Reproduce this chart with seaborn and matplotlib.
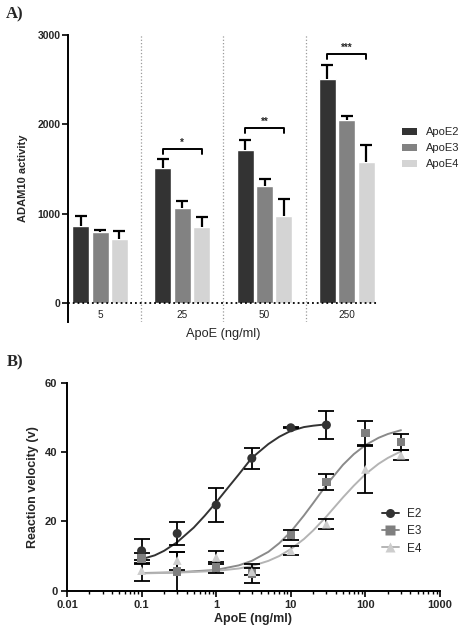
import matplotlib
matplotlib.use("Agg")
import matplotlib.pyplot as plt
from matplotlib.lines import Line2D
from matplotlib.patches import Patch
from matplotlib.ticker import FixedLocator, LogLocator, NullFormatter
import numpy as np
import pandas as pd
import seaborn as sns

# ---- Panel A: ADAM10 activity by ApoE dose ----
doses = ["5", "25", "50", "250"]
isoforms = ["ApoE2", "ApoE3", "ApoE4"]
adam10_e2 = [865, 1509, 1707, 2504]
adam10_e3 = [794, 1066, 1308, 2050]
adam10_e4 = [719, 853, 973, 1580]
sd_e2 = [104, 101, 115, 164]
sd_e3 = [18, 74, 75, 48]
sd_e4 = [82, 108, 190, 186]
sig_doses = ["25", "50", "250"]
sig_labels = ["*", "**", "***"]
sig_heights = [1725, 1957, 2784]

# ---- Panel B: reaction velocity vs ApoE concentration ----
conc_e2 = [0.1, 0.3, 1, 3, 10, 30]
vel_e2 = [11.5, 16.5, 24.7, 38.2, 47.0, 47.8]
err_e2 = [3.4, 3.4, 4.9, 3.1, 0.2, 4.1]
conc_e34 = [0.1, 0.3, 1, 3, 10, 30, 100, 300]
vel_e3 = [9.3, 5.5, 6.7, 5.0, 16.1, 31.3, 45.4, 42.8]
err_e3 = [1.5, 5.7, 1.6, 2.7, 1.4, 2.3, 3.5, 2.3]
vel_e4 = [5.8, 8.7, 9.6, 5.5, 11.5, 19.2, 35.0, 39.1]
err_e4 = [3.1, 2.6, 1.9, 1.0, 1.3, 1.4, 6.8, 1.5]

# fitted curves
fit_x_e2 = [0.1, 0.15, 0.2, 0.3, 0.5, 0.7, 1, 1.5, 2, 3, 5, 7, 10, 15, 20, 30]
fit_e2 = [9.1, 10.2, 11.5, 14.0, 18.2, 21.6, 25.5, 30.2, 33.5, 38.3, 42.3, 44.4, 46.1, 47.2, 47.6, 48.0]
fit_x_e34 = [0.1, 0.3, 1, 2, 3, 5, 7, 10, 15, 20, 30, 50, 70, 100, 150, 200, 300]
fit_e3 = [5.1, 5.3, 6.0, 7.3, 8.6, 11.2, 13.7, 17.0, 21.7, 25.3, 30.5, 36.3, 39.4, 42.0, 44.1, 45.2, 46.3]
fit_e4 = [5.0, 5.2, 5.7, 6.4, 7.1, 8.6, 10.0, 12.0, 14.9, 17.4, 21.4, 26.9, 30.3, 33.6, 36.6, 38.3, 40.2]

bar_colors = ["#333333", "#828282", "#d4d4d4"]
pt_colors = {"E2": "#333333", "E3": "#7f7f7f", "E4": "#cdcdcd"}
line_colors = {"E2": "#333333", "E3": "#8a8a8a", "E4": "#b4b4b4"}

sns.set_theme(style="ticks")
plt.rcParams["font.family"] = ["Liberation Sans", "DejaVu Sans"]

W, H = 465, 632
fig = plt.figure(figsize=(W / 100, H / 100), dpi=100)
ax_a = fig.add_axes([68 / W, 1 - 322 / H, (378 - 68) / W, (322 - 35) / H])
ax_b = fig.add_axes([67 / W, 1 - 590.7 / H, (440 - 67) / W, 208 / H])

# ---------------- Panel A ----------------
df_a = pd.DataFrame({
    "dose": doses * 3,
    "isoform": np.repeat(isoforms, len(doses)),
    "activity": adam10_e2 + adam10_e3 + adam10_e4,
    "sd": sd_e2 + sd_e3 + sd_e4,
})
sns.barplot(data=df_a, x="dose", y="activity", hue="isoform", order=doses,
            hue_order=isoforms, palette=bar_colors, width=0.705, gap=0.12,
            errorbar=None, saturation=1, legend=False, ax=ax_a, zorder=2)

# one-sided (upper) SD bars, cap only on top
bar_x = {}
for iso, cont in zip(isoforms, ax_a.containers):
    sds = df_a[df_a["isoform"] == iso]["sd"].to_numpy()
    xs = []
    for bar, sd in zip(cont, sds):
        xc = bar.get_x() + bar.get_width() / 2
        xs.append(xc)
        _, caps, _ = ax_a.errorbar(xc, bar.get_height(), yerr=[[0], [sd]], fmt="none",
                                   ecolor="black", elinewidth=1.6, capsize=4.3,
                                   capthick=1.6, zorder=3)
        caps[0].set_visible(False)
    bar_x[iso] = xs

for dose, lab, yb in zip(sig_doses, sig_labels, sig_heights):
    i = doses.index(dose)
    x0, x1 = bar_x["ApoE2"][i], bar_x["ApoE4"][i]
    ax_a.plot([x0, x0, x1, x1], [yb - 55, yb, yb, yb - 55], color="black", lw=1.4,
              zorder=3, clip_on=False)
    ax_a.text((x0 + x1) / 2, yb + 15, lab, ha="center", va="bottom", fontsize=7,
              fontweight="bold")

ax_a.set_xlim(-0.39, 3.38)
ax_a.set_ylim(-213, 3000)
for xs in [0.5, 1.5, 2.5]:
    ax_a.axvline(xs, color="#9a9a9a", ls=":", lw=0.9, zorder=1)
ax_a.axhline(0, color="black", ls=":", lw=1.3, zorder=4)
ax_a.set_yticks([0, 1000, 2000, 3000])
ax_a.set_yticklabels(["0", "1000", "2000", "3000"], fontweight="bold", fontsize=7.5)
ax_a.tick_params(axis="y", direction="out", length=4, width=1.2, color="black", pad=1.5)
ax_a.tick_params(axis="x", length=0, pad=-8.5, labelsize=7.2, labelcolor="#222222")
for s in ["top", "right", "bottom"]:
    ax_a.spines[s].set_visible(False)
ax_a.spines["left"].set_linewidth(1.4)
ax_a.spines["left"].set_color("black")
ax_a.set_ylabel("ADAM10 activity", fontsize=8, fontweight="bold", labelpad=7)
ax_a.set_xlabel("ApoE (ng/ml)", fontsize=9.2, labelpad=4.5)

handles_a = [Patch(facecolor=c, edgecolor="none", label=l) for c, l in zip(bar_colors, isoforms)]
fig.legend(handles=handles_a, loc="upper left", bbox_to_anchor=(402 / W, 1 - 127 / H),
           frameon=False, fontsize=8, handlelength=1.35, handleheight=0.6,
           handletextpad=0.8, labelspacing=0.55, borderpad=0, borderaxespad=0)

# ---------------- Panel B ----------------
groups = [
    ("E2", "o", conc_e2, vel_e2, err_e2, fit_x_e2, fit_e2, 6.5),
    ("E3", "s", conc_e34, vel_e3, err_e3, fit_x_e34, fit_e3, 6.0),
    ("E4", "^", conc_e34, vel_e4, err_e4, fit_x_e34, fit_e4, 6.3),
]
for name, mk, cx, vy, ey, fx, fy, ms in groups:
    sns.lineplot(x=fx, y=fy, color=line_colors[name], lw=1.4, ax=ax_b, zorder=2)
    ax_b.errorbar(cx, vy, yerr=ey, fmt="none", ecolor="black", elinewidth=1.3,
                  capsize=5.5, capthick=1.3, zorder=3)
    sns.scatterplot(x=cx, y=vy, marker=mk, s=ms ** 2, color=pt_colors[name],
                    edgecolor="none", ax=ax_b, zorder=4)

ax_b.set_xscale("log")
ax_b.set_xlim(0.01, 1000)
ax_b.set_ylim(0, 60)
ax_b.xaxis.set_major_locator(FixedLocator([0.01, 0.1, 1, 10, 100, 1000]))
ax_b.set_xticklabels(["0.01", "0.1", "1", "10", "100", "1000"], fontweight="bold", fontsize=8)
ax_b.xaxis.set_minor_locator(LogLocator(base=10, subs=np.arange(2, 10)))
ax_b.xaxis.set_minor_formatter(NullFormatter())
ax_b.set_yticks([0, 20, 40, 60])
ax_b.set_yticklabels(["0", "20", "40", "60"], fontweight="bold", fontsize=8)
ax_b.tick_params(which="major", direction="out", length=4.5, width=1.2, color="black", pad=2.5)
ax_b.tick_params(which="minor", direction="out", length=2.5, width=1.0, color="black")
for s in ["top", "right"]:
    ax_b.spines[s].set_visible(False)
for s in ["left", "bottom"]:
    ax_b.spines[s].set_linewidth(1.4)
    ax_b.spines[s].set_color("black")
ax_b.set_ylabel("Reaction velocity (v)", fontsize=9, fontweight="bold", labelpad=4)
ax_b.set_xlabel("ApoE (ng/ml)", fontsize=9, fontweight="bold", labelpad=1.5)

handles_b = [Line2D([0], [0], color=line_colors[n], lw=1.4, marker=m,
                    markerfacecolor=pt_colors[n], markeredgecolor="none", markersize=6.5,
                    label=n) for n, m in [("E2", "o"), ("E3", "s"), ("E4", "^")]]
fig.legend(handles=handles_b, loc="upper left", bbox_to_anchor=(382 / W, 1 - 508 / H),
           frameon=False, fontsize=8.5, handlelength=1.4, handletextpad=0.75,
           labelspacing=0.45, borderpad=0, borderaxespad=0)

# panel letters
fig.text(6 / W, 1 - 14 / H, "A)", fontsize=12, fontweight="bold", va="center",
         family=["Liberation Serif", "DejaVu Serif"])
fig.text(7 / W, 1 - 362 / H, "B)", fontsize=12, fontweight="bold", va="center",
         family=["Liberation Serif", "DejaVu Serif"])

fig.savefig("out.png", dpi=100, facecolor="white")
